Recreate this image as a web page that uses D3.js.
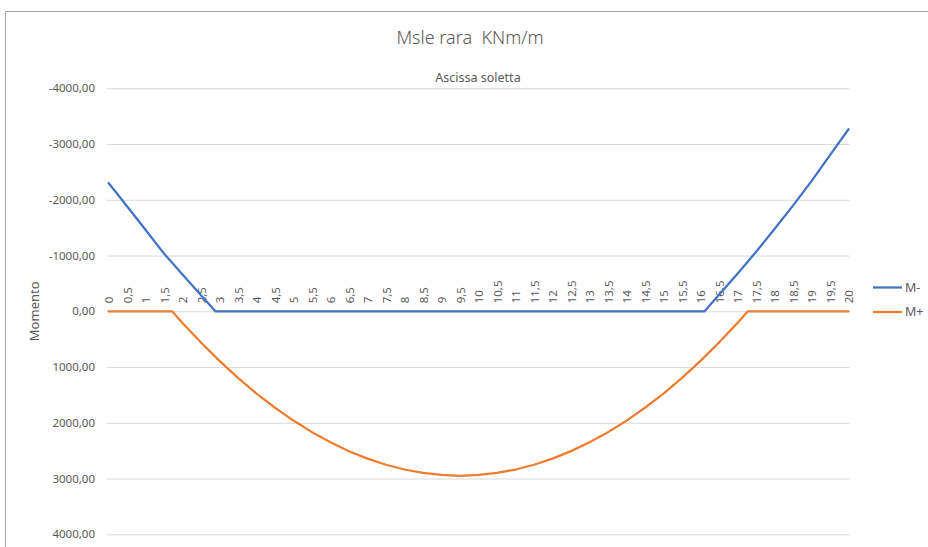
<!DOCTYPE html>
<html>
<head>
<meta charset="utf-8">
<script src="https://cdn.jsdelivr.net/npm/d3@7"></script>
<style>
  html, body { margin: 0; padding: 0; background: #fff; }
  svg { display: block; font-family: "Noto Sans", "Open Sans", sans-serif; }
</style>
</head>
<body>
<svg id="chart" width="928" height="547"></svg>
<script>
// ---- data ----
const title = "Msle rara  KNm/m";
const xAxisTitle = "Ascissa soletta";
const yAxisTitle = "Momento";
const seriesNames = ["M-", "M+"];

const xTickLabels = ["0","0,5","1","1,5","2","2,5","3","3,5","4","4,5","5","5,5","6","6,5","7","7,5","8","8,5","9","9,5","10",
  "10,5","11","11,5","12","12,5","13","13,5","14","14,5","15","15,5","16","16,5","17","17,5","18","18,5","19","19,5","20"];
const yTicks = [-4000, -3000, -2000, -1000, 0, 1000, 2000, 3000, 4000];

// abscissa of M- points
const xMinus = [0, 0.25, 0.5, 1, 1.5, 2, 2.5, 2.89, 3, 5, 8, 10, 13, 16, 16.11, 16.5, 17, 17.5, 18, 18.5, 19, 19.5, 20];
const mMinus = [-2300, -2095, -1885, -1462, -1035, -660, -290, 0, 0, 0, 0, 0, 0, 0, 0, -295, -675, -1065, -1475, -1895, -2335, -2800, -3265];

// abscissa of M+ points
const xPlus = [0, 1, 1.5, 1.72, 2, 2.5, 3, 3.5, 4, 4.5, 5, 5.5, 6, 6.5, 7, 7.5, 8, 8.5, 9, 9.5, 10,
  10.5, 11, 11.5, 12, 12.5, 13, 13.5, 14, 14.5, 15, 15.5, 16, 16.5, 17, 17.28, 18, 19, 20];
const mPlus = [0, 0, 0, 0, 210, 560, 890, 1195, 1475, 1730, 1960, 2168, 2350, 2510, 2643, 2752, 2838, 2900, 2936, 2950, 2936,
  2898, 2838, 2752, 2642, 2508, 2350, 2168, 1962, 1730, 1475, 1195, 890, 560, 208, 0, 0, 0, 0];

const colors = ["#4472C4", "#ED7D31"];

// ---- drawing ----
const svg = d3.select("#chart");
const fmtComma = v => d3.format(".2f")(v).replace(".", ",").replace("−", "-");

const x = d3.scaleLinear().domain([0, 20]).range([108.5, 848.5]);
const y = d3.scaleLinear().domain([-4000, 4000]).range([88.3, 534.3]);

// chart border
svg.append("rect")
  .attr("x", 5.5).attr("y", 11.5).attr("width", 940).attr("height", 560)
  .attr("fill", "none").attr("stroke", "#a6a6a6").attr("stroke-width", 1);

// title
svg.append("text")
  .attr("x", 470).attr("y", 44)
  .attr("text-anchor", "middle")
  .attr("font-size", 18).attr("font-weight", 300)
  .attr("fill", "#595959")
  .style("white-space", "pre")
  .text(title);

// x axis title (above plot)
svg.append("text")
  .attr("x", 478).attr("y", 82)
  .attr("text-anchor", "middle")
  .attr("font-size", 12.5)
  .attr("fill", "#595959")
  .text(xAxisTitle);

// y axis title
svg.append("text")
  .attr("transform", `translate(39,${y(0)}) rotate(-90)`)
  .attr("text-anchor", "middle")
  .attr("font-size", 13)
  .attr("fill", "#595959")
  .text(yAxisTitle);

// gridlines + y tick labels via axis
const yAxis = d3.axisLeft(y)
  .tickValues(yTicks)
  .tickSize(-(849.5 - 107))
  .tickPadding(12)
  .tickFormat(fmtComma);

const gy = svg.append("g")
  .attr("transform", "translate(107,0)")
  .call(yAxis);
gy.select(".domain").remove();
gy.selectAll(".tick line").attr("stroke", "#d9d9d9").attr("stroke-width", 1);
gy.selectAll(".tick text")
  .attr("fill", "#595959")
  .attr("font-size", 11.5)
  .attr("font-family", "'Noto Sans', sans-serif");

// x tick labels (rotated), sitting above the zero line
const xTickVals = xTickLabels.map(s => +s.replace(",", "."));
const xAxis = d3.axisTop(x)
  .tickValues(xTickVals)
  .tickSize(0)
  .tickPadding(0)
  .tickFormat((d, i) => xTickLabels[i]);
const gx = svg.append("g")
  .attr("transform", `translate(0,${y(0)})`)
  .call(xAxis);
gx.select(".domain").remove();
gx.selectAll(".tick text")
  .attr("transform", "rotate(-90)")
  .attr("x", 8).attr("y", 0)
  .attr("dy", "0.35em")
  .attr("text-anchor", "start")
  .attr("fill", "#595959")
  .attr("font-size", 11.5)
  .attr("font-family", "'Noto Sans', sans-serif");

// lines
const line = d3.line().x(d => x(d[0])).y(d => y(d[1]));
const seriesData = [
  xMinus.map((v, i) => [v, mMinus[i]]),
  xPlus.map((v, i) => [v, mPlus[i]])
];
// draw M+ first, then M- on top
[1, 0].forEach(k => {
  svg.append("path")
    .datum(seriesData[k])
    .attr("d", line)
    .attr("fill", "none")
    .attr("stroke", colors[k])
    .attr("stroke-width", 2.25)
    .attr("stroke-linejoin", "round")
    .attr("stroke-linecap", "round");
});

// legend
const legend = svg.append("g");
seriesNames.forEach((name, i) => {
  const ly = 287.5 + i * 24.5;
  legend.append("line")
    .attr("x1", 873).attr("x2", 902)
    .attr("y1", ly).attr("y2", ly)
    .attr("stroke", colors[i]).attr("stroke-width", 2.25);
  legend.append("text")
    .attr("x", 905).attr("y", ly)
    .attr("dy", "0.35em")
    .attr("font-size", 12.5)
    .attr("fill", "#595959")
    .text(name);
});
</script>
</body>
</html>
